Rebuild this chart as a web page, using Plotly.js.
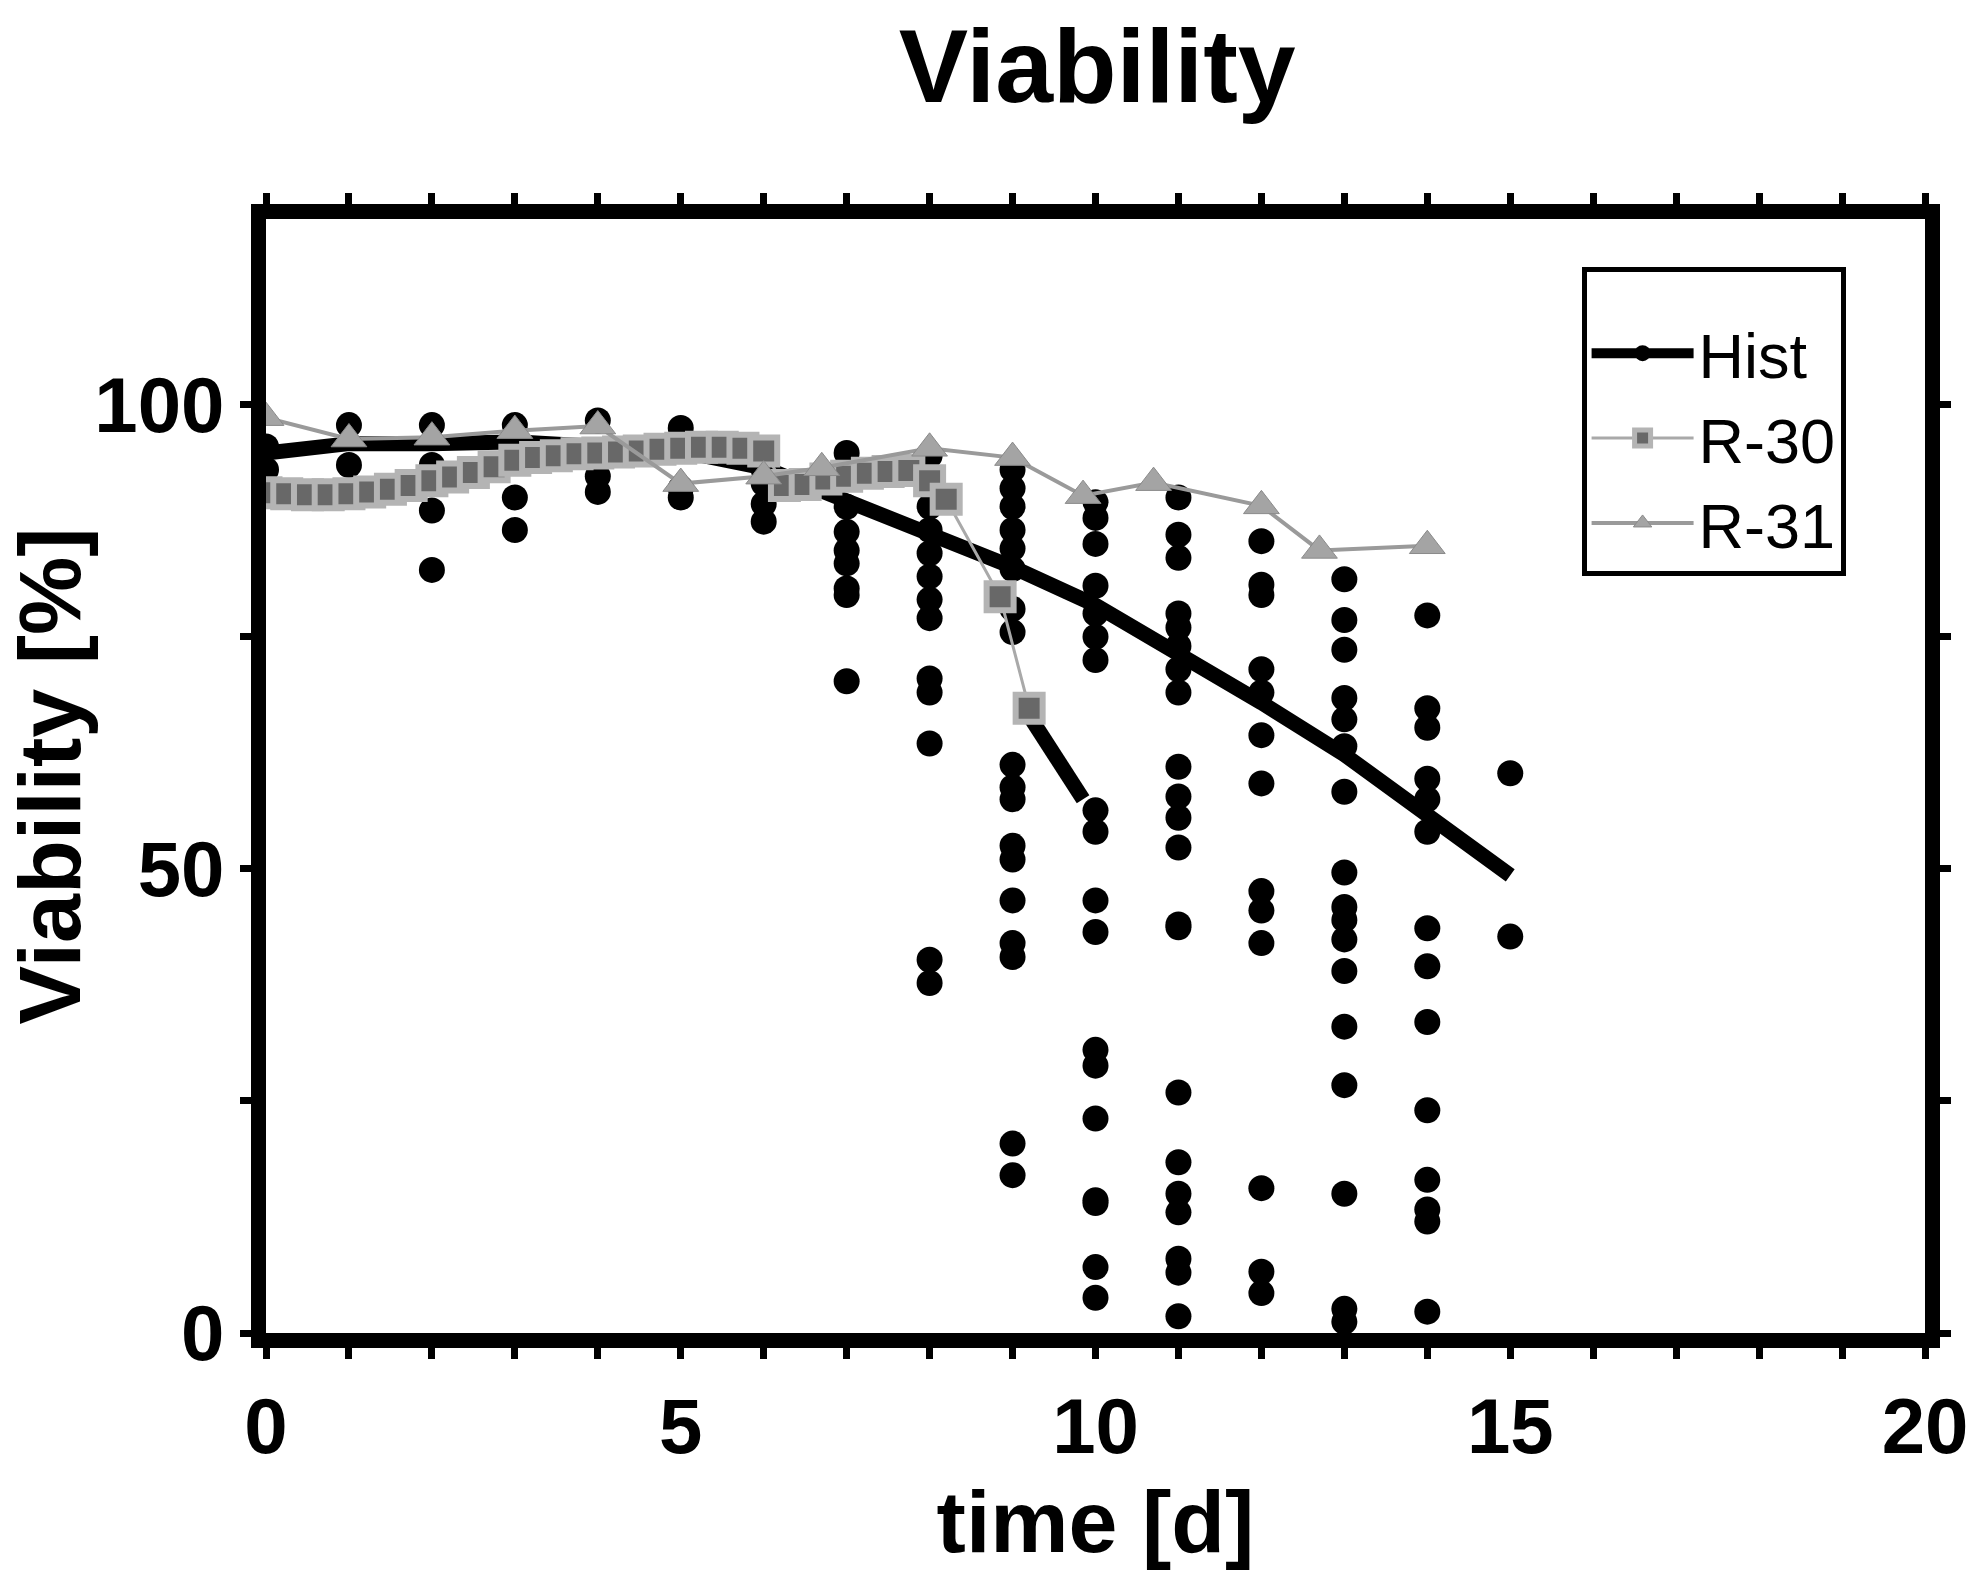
<!DOCTYPE html>
<html>
<head>
<meta charset="utf-8">
<script src="https://cdn.plot.ly/plotly-3.0.1.min.js"></script>
<style>
    html, body { margin: 0; padding: 0; background: #ffffff; }
    #chart { width: 1977px; height: 1571px; }
</style>
</head>
<body>
<div id="chart"></div>
<script>
// Viability over time: historical runs (dots + mean) vs. runs R-30 and R-31

const histDays = [0, 1, 2, 3, 4, 5, 6, 7, 8, 9, 10, 11, 12, 13, 14, 15];

// individual historical samples, one list per day
const histSamples = [
    [95.5, 93],
    [97.8, 93.5],
    [97.8, 93.5, 88.6, 82.2],
    [97.8, 94.5, 90, 86.5],
    [98.3, 92.3, 90.6],
    [97.5, 95.5, 91, 90],
    [95, 93, 91.5, 89.3, 87.4],
    [94.8, 93.1, 89, 86.3, 84.3, 82.9, 80.2, 79.5, 70.2],
    [94.5, 89, 86.5, 84, 81.5, 79, 77, 70.5, 69, 63.5, 40.2, 37.7],
    [93, 91, 89, 86.5, 84.5, 82.3, 78, 75.5, 61.2, 58.8, 57.5, 52.5, 51, 46.6, 42, 40.5, 20.4, 17],
    [89.5, 87.8, 85, 80.5, 77.5, 75, 72.5, 56.3, 54, 46.6, 43.2, 30.5, 28.8, 23.1, 14.3, 14, 7.1, 3.8],
    [90, 86, 83.5, 77.5, 76, 74, 71.5, 69, 61, 57.8, 55.5, 52.3, 44, 43.7, 25.9, 18.4, 15, 13, 8, 6.5, 1.8],
    [85.3, 80.6, 79.5, 71.5, 69, 64.4, 59.2, 47.6, 45.5, 42, 15.6, 6.6, 4.3],
    [81.2, 76.8, 73.6, 68.4, 66.1, 63.2, 58.3, 49.6, 45.9, 44.5, 42.4, 39, 33, 26.7, 15, 2.6, 1.2],
    [77.3, 67.3, 65.2, 59.7, 57.5, 54, 43.6, 39.5, 33.5, 24, 16.5, 13.3, 12, 2.3],
    [60.3, 42.7]
];

const histMean = [94.8, 95.8, 95.8, 96, 95.5, 95, 93.2, 89.7, 86.3, 82.5, 78.4, 73.3, 67.9, 62.3, 56, 49.3];

// one historical run sampled more densely after day 9
const histRunTime = [9.2, 9.5, 9.85];
const histRunValue = [66.5, 62, 57.5];

const r30Time = [0, 0.25, 0.5, 0.75, 1, 1.25, 1.5, 1.75, 2, 2.25, 2.5, 2.75, 3, 3.25, 3.5, 3.75,
    4, 4.25, 4.5, 4.75, 5, 5.25, 5.5, 5.75, 6, 6.25, 6.5, 6.75, 7, 7.25, 7.5, 7.75, 8, 8.2, 8.85, 9.2];
const r30Value = [90.5, 90.4, 90.3, 90.3, 90.4, 90.6, 90.9, 91.3, 91.8, 92.2, 92.7, 93.3, 94, 94.3, 94.5, 94.7,
    94.8, 94.9, 95, 95.2, 95.3, 95.4, 95.4, 95.3, 95, 91.3, 91.4, 92, 92.3, 92.6, 92.8, 92.9, 91.8, 89.8, 79.3, 67.3];

const r31Time = [0, 1, 2, 3, 4, 5, 6, 6.7, 8, 9, 9.85, 10.7, 12, 12.7, 14];
const r31Value = [98.6, 96.3, 96.5, 97.2, 97.7, 91.5, 92.3, 93.2, 95.3, 94.3, 90.2, 91.6, 89.1, 84.3, 84.8];

const xTickVals = [0, 5, 10, 15, 20];
const yTickVals = [0, 50, 100];

const fontFamily = 'Arial, "Liberation Sans", sans-serif';

function flattenSamples() {
    let xs = [];
    let ys = [];
    for (let i = 0; i < histDays.length; i++) {
        for (let j = 0; j < histSamples[i].length; j++) {
            xs.push(histDays[i]);
            ys.push(histSamples[i][j]);
        }
    }
    return { x: xs, y: ys };
}

function drawChart() {
    const samples = flattenSamples();

    const dotsTrace = {
        x: samples.x,
        y: samples.y,
        type: 'scatter',
        mode: 'markers',
        marker: { symbol: 'circle', size: 26, color: '#000000' },
        legendgroup: 'hist',
        showlegend: false,
        cliponaxis: false
    };

    const runTrace = {
        x: histRunTime,
        y: histRunValue,
        type: 'scatter',
        mode: 'lines',
        line: { color: '#000000', width: 15 },
        legendgroup: 'hist',
        showlegend: false
    };

    const meanTrace = {
        x: histDays,
        y: histMean,
        type: 'scatter',
        mode: 'lines',
        line: { color: '#000000', width: 15 },
        legendgroup: 'hist',
        showlegend: false
    };

    // legend entry only (line with dot, as in the original key)
    const histKey = {
        x: [null],
        y: [null],
        type: 'scatter',
        mode: 'lines+markers',
        name: 'Hist',
        line: { color: '#000000', width: 15 },
        marker: { symbol: 'circle', size: 24, color: '#000000' },
        legendgroup: 'hist'
    };

    const r30Trace = {
        x: r30Time,
        y: r30Value,
        type: 'scatter',
        mode: 'lines+markers',
        name: 'R-30',
        line: { color: '#a9a9a9', width: 3 },
        marker: { symbol: 'square', size: 27, color: '#686868', line: { color: '#b4b4b4', width: 6 } }
    };

    const r31Trace = {
        x: r31Time,
        y: r31Value,
        type: 'scatter',
        mode: 'lines+markers',
        name: 'R-31',
        line: { color: '#9a9a9a', width: 4 },
        marker: { symbol: 'triangle-up', size: 31, color: '#a4a4a4', line: { color: '#8a8a8a', width: 1 } }
    };

    const axisCommon = {
        showline: true,
        linecolor: '#000000',
        linewidth: 15,
        mirror: 'ticks',
        showgrid: false,
        zeroline: false,
        ticks: 'outside',
        ticklen: 11,
        tickwidth: 7,
        tickcolor: '#000000',
        tickfont: { family: fontFamily, size: 78, color: '#000000', weight: 'bold' }
    };

    const layout = {
        width: 1977,
        height: 1571,
        paper_bgcolor: '#ffffff',
        plot_bgcolor: '#ffffff',
        margin: { l: 266, r: 52, t: 219, b: 238 },
        showlegend: true,
        title: {
            text: 'Viability',
            font: { family: fontFamily, size: 104, color: '#000000', weight: 'bold' },
            x: 0.555,
            xanchor: 'center',
            y: 0.958,
            yanchor: 'middle'
        },
        xaxis: Object.assign({}, axisCommon, {
            range: [0, 20],
            tickvals: xTickVals,
            ticktext: xTickVals.map(String),
            minor: { dtick: 1, tick0: 0, ticks: 'outside', ticklen: 11, tickwidth: 7, tickcolor: '#000000' },
            title: {
                text: 'time [d]',
                font: { family: fontFamily, size: 88, color: '#000000', weight: 'bold' },
                standoff: 28
            }
        }),
        yaxis: Object.assign({}, axisCommon, {
            range: [0, 120],
            tickvals: yTickVals,
            ticktext: yTickVals.map(String),
            minor: { dtick: 25, tick0: 0, ticks: 'outside', ticklen: 11, tickwidth: 7, tickcolor: '#000000' },
            title: {
                text: 'Viability [%]',
                font: { family: fontFamily, size: 88, color: '#000000', weight: 'bold' },
                standoff: 8
            }
        }),
        legend: {
            x: 0.793,
            y: 0.957,
            xanchor: 'left',
            yanchor: 'top',
            bgcolor: '#ffffff',
            bordercolor: '#000000',
            borderwidth: 5,
            itemwidth: 102,
            entrywidth: 320,
            title: { text: ' ', font: { family: fontFamily, size: 26 } },
            font: { family: fontFamily, size: 63, color: '#000000' },
            traceorder: 'normal'
        }
    };

    Plotly.newPlot('chart', [dotsTrace, runTrace, meanTrace, histKey, r30Trace, r31Trace], layout, { displayModeBar: false, staticPlot: true });
}

drawChart();
</script>
</body>
</html>
